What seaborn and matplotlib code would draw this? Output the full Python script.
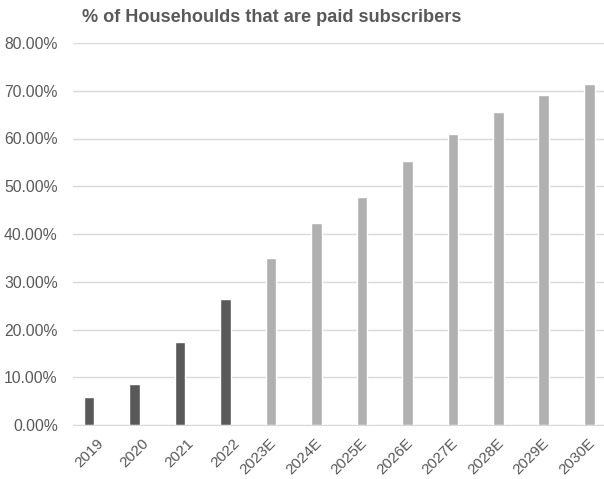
import numpy as np
import matplotlib.pyplot as plt
import matplotlib.transforms as mtransforms
import pandas as pd
import seaborn as sns

# data
years = ["2019", "2020", "2021", "2022", "2023E", "2024E", "2025E",
         "2026E", "2027E", "2028E", "2029E", "2030E"]
share = [0.059, 0.086, 0.174, 0.264, 0.350, 0.423, 0.477,
         0.553, 0.609, 0.656, 0.691, 0.714]
kind = ["actual"] * 4 + ["estimate"] * 8

df = pd.DataFrame({"year": years, "share": share, "kind": kind})

sns.set_style("white")
plt.rcParams["font.family"] = ["Liberation Sans", "DejaVu Sans"]

fig = plt.figure(figsize=(6.04, 4.79), dpi=100)
ax = fig.add_axes([73 / 604, 54 / 479, 531 / 604, 382 / 479])

sns.barplot(data=df, x="year", y="share", hue="kind",
            palette={"actual": "#595959", "estimate": "#b0b0b0"},
            width=0.24, dodge=False, legend=False, ax=ax)

ax.set_ylim(0, 0.8)
ax.set_xlim(-0.352, 11.32)
ax.set_yticks(np.arange(0, 0.81, 0.1))
ax.set_yticklabels([f"{v * 100:.2f}%" for v in np.arange(0, 0.81, 0.1)])
ax.yaxis.grid(True, color="#d9d9d9", linewidth=1)
ax.set_axisbelow(True)
for s in ["top", "right", "left"]:
    ax.spines[s].set_visible(False)
ax.spines["bottom"].set_color("#d9d9d9")
ax.tick_params(axis="both", length=0, labelcolor="#595959")
ax.tick_params(axis="y", pad=11, labelsize=11.3)
ax.tick_params(axis="x", pad=8, labelsize=11)
for lab in ax.get_xticklabels():
    # excel-style placement: year labels sit a bit right of the tick
    dx = 7 if not lab.get_text().endswith("E") else -2
    shift = mtransforms.ScaledTranslation(dx / 100, 0, fig.dpi_scale_trans)
    lab.set_rotation(45)
    lab.set_ha("right")
    lab.set_rotation_mode("anchor")
    lab.set_transform(lab.get_transform() + shift)
ax.set_xlabel("")
ax.set_ylabel("")

fig.text(272 / 604, 1 - 17 / 479, "% of Househoulds that are paid subscribers",
         ha="center", va="center", fontsize=13.1, fontweight="bold",
         color="#595959")

fig.savefig("out.png", dpi=100)
